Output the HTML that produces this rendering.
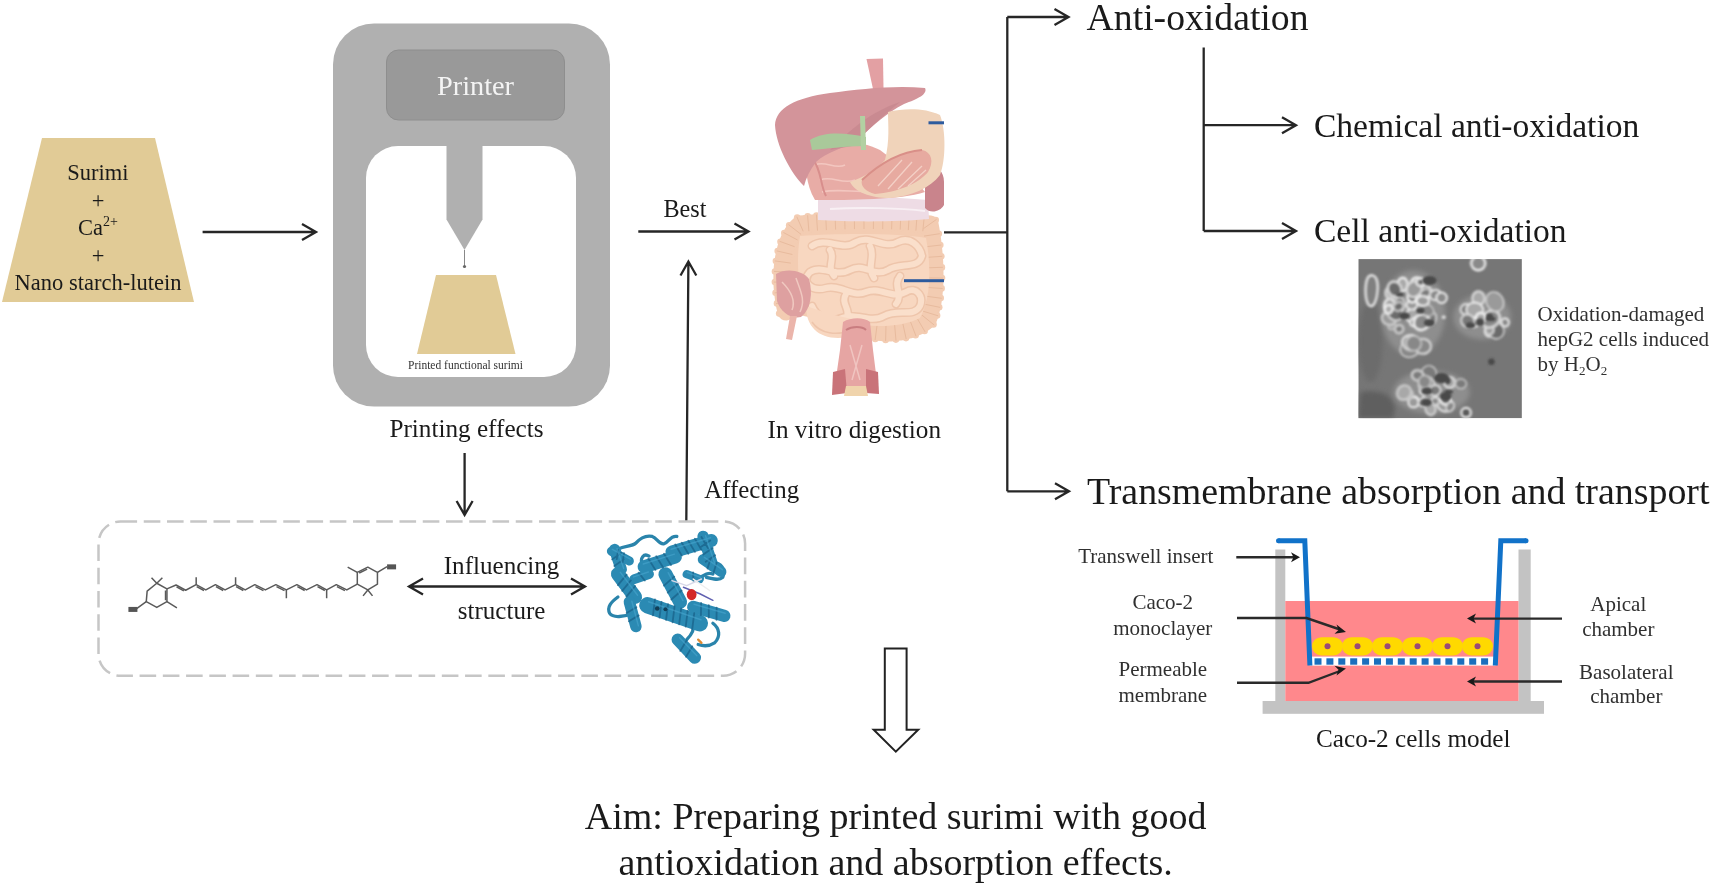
<!DOCTYPE html>
<html>
<head>
<meta charset="utf-8">
<style>
html,body{margin:0;padding:0;background:#fff;overflow:hidden;}
body{width:1713px;height:886px;position:relative;}
svg{position:absolute;left:0;top:0;}
text{font-family:"Liberation Serif",serif;fill:#1a1a1a;}
.g3 text{fill:#303030;}
</style>
</head>
<body>
<svg width="1713" height="886" viewBox="0 0 1713 886">
<defs>
<marker id="ah" viewBox="0 0 20 20" refX="18" refY="10" markerWidth="20" markerHeight="20" markerUnits="userSpaceOnUse" orient="auto">
<path d="M3 2 L18 10 L3 18" fill="none" stroke="#1a1a1a" stroke-width="2.2"/>
</marker>
<clipPath id="micclip"><rect x="1358.3" y="259.1" width="163.6" height="159.2"/></clipPath>
<filter id="blur1" x="-20%" y="-20%" width="140%" height="140%"><feGaussianBlur stdDeviation="5"/></filter>
<filter id="blur2" x="-20%" y="-20%" width="140%" height="140%"><feGaussianBlur stdDeviation="14"/></filter>
</defs>
<g id="tree" fill="none" stroke="#262626" stroke-width="2.3">
<path d="M944,232.3 H1007.3"/>
<path d="M1007.3,17 V491.3"/>
<path d="M1007.3,17 H1068.5 M1054.5,9 L1068.5,17 L1054.5,25"/>
<path d="M1007.3,491.3 H1069 M1055,483.3 L1069,491.3 L1055,499.3"/>
<path d="M1203.7,47.5 V231"/>
<path d="M1203.7,125.2 H1296 M1282,117.2 L1296,125.2 L1282,133.2"/>
<path d="M1203.7,231 H1296 M1282,223 L1296,231 L1282,239"/>
<path d="M202.6,232 H316 M302,224 L316,232 L302,240"/>
<path d="M638.3,231.5 H748.5 M734.5,223.5 L748.5,231.5 L734.5,239.5"/>
<path d="M686.3,522 L688.4,261.5 M680.5,275.5 L688.4,261.5 L696.3,275.5"/>
<path d="M464.6,453 V515 M456.6,501 L464.6,515 L472.6,501"/>
<path d="M409,586.5 H585 M423,578.5 L409,586.5 L423,594.5 M571,578.5 L585,586.5 L571,594.5"/>
</g>
<rect x="98.5" y="521.5" width="646.6" height="154.3" rx="22" fill="none" stroke="#c6c6c6" stroke-width="2.5" stroke-dasharray="16.6,6.65"/>
<path d="M884.8,648.6 H906.6 V729.8 H918.2 L895.8,751.6 L873.7,729.8 H884.8 Z" fill="#fff" stroke="#222" stroke-width="2"/>

<!-- GRAPHICS -->
<g id="g-left">
<polygon points="42,138 155,138 194,302 2,302" fill="#e1cb96"/>
</g>
<g id="printer">
<rect x="333" y="23.5" width="277" height="383" rx="41" fill="#b0b0b0"/>
<rect x="386.5" y="50" width="178" height="70" rx="12" fill="#999" stroke="#8e8e8e" stroke-width="1"/>
<rect x="366" y="146" width="210" height="231" rx="32" fill="#fff"/>
<polygon points="446.5,146 482.5,146 482.5,219.5 464.5,250 446.5,219.5" fill="#b0b0b0"/>
<line x1="464.5" y1="250" x2="464.5" y2="266" stroke="#888" stroke-width="1"/>
<circle cx="464.5" cy="266.5" r="1.6" fill="#666"/>
<polygon points="436,275 496,275 515.5,354 417,354" fill="#e1cb96"/>
</g>
<g id="digest">
<path d="M866.5,59 L883,58.5 L883.5,88 L873,89 Z" fill="#e3a0a3"/>
<path d="M786.0,312.0 L784.9,307.1 L783.9,302.2 L783.2,297.2 L782.6,292.1 L782.1,287.0 L781.9,281.9 L781.9,276.8 L782.0,271.8 L782.3,266.9 L782.9,262.0 L783.6,257.3 L784.6,252.7 L785.7,248.2 L787.1,244.0 L788.7,240.0 L790.5,236.2 L792.5,232.7 L794.8,229.5 L797.3,226.6 L800.0,224.0 L804.1,223.6 L808.3,223.3 L812.5,222.9 L816.9,222.6 L821.4,222.3 L826.0,222.1 L830.6,221.9 L835.3,221.7 L840.0,221.5 L844.8,221.3 L849.6,221.2 L854.4,221.1 L859.2,221.1 L864.0,221.0 L868.8,221.0 L873.5,221.0 L878.2,221.1 L882.8,221.1 L887.4,221.2 L891.9,221.3 L896.2,221.5 L900.5,221.7 L904.7,221.9 L908.8,222.1 L912.7,222.3 L916.5,222.6 L920.2,222.9 L923.6,223.3 L926.9,223.6 L930.0,224.0 L931.0,229.4 L931.9,234.9 L932.7,240.4 L933.3,245.9 L933.9,251.4 L934.4,256.8 L934.7,262.2 L934.9,267.6 L935.0,272.8 L935.0,278.0 L934.9,283.0 L934.6,287.9 L934.2,292.7 L933.7,297.2 L933.1,301.6 L932.3,305.8 L931.4,309.7 L930.4,313.4 L929.3,316.9 L928.0,320.0 L924.7,322.6 L921.0,325.0 L917.2,327.0 L913.1,328.7 L908.9,330.1 L904.5,331.2 L899.9,332.1 L895.3,332.6 L890.6,332.9 L885.8,332.9 L881.0,332.6 L876.2,332.1 L871.4,331.3 L866.6,330.3 L862.0,329.0 Z" fill="#f3ccb2" stroke="none"/><path d="M786.0,312.0 L784.9,307.1 L783.9,302.2 L783.2,297.2 L782.6,292.1 L782.1,287.0 L781.9,281.9 L781.9,276.8 L782.0,271.8 L782.3,266.9 L782.9,262.0 L783.6,257.3 L784.6,252.7 L785.7,248.2 L787.1,244.0 L788.7,240.0 L790.5,236.2 L792.5,232.7 L794.8,229.5 L797.3,226.6 L800.0,224.0 L804.1,223.6 L808.3,223.3 L812.5,222.9 L816.9,222.6 L821.4,222.3 L826.0,222.1 L830.6,221.9 L835.3,221.7 L840.0,221.5 L844.8,221.3 L849.6,221.2 L854.4,221.1 L859.2,221.1 L864.0,221.0 L868.8,221.0 L873.5,221.0 L878.2,221.1 L882.8,221.1 L887.4,221.2 L891.9,221.3 L896.2,221.5 L900.5,221.7 L904.7,221.9 L908.8,222.1 L912.7,222.3 L916.5,222.6 L920.2,222.9 L923.6,223.3 L926.9,223.6 L930.0,224.0 L931.0,229.4 L931.9,234.9 L932.7,240.4 L933.3,245.9 L933.9,251.4 L934.4,256.8 L934.7,262.2 L934.9,267.6 L935.0,272.8 L935.0,278.0 L934.9,283.0 L934.6,287.9 L934.2,292.7 L933.7,297.2 L933.1,301.6 L932.3,305.8 L931.4,309.7 L930.4,313.4 L929.3,316.9 L928.0,320.0 L924.7,322.6 L921.0,325.0 L917.2,327.0 L913.1,328.7 L908.9,330.1 L904.5,331.2 L899.9,332.1 L895.3,332.6 L890.6,332.9 L885.8,332.9 L881.0,332.6 L876.2,332.1 L871.4,331.3 L866.6,330.3 L862.0,329.0" fill="none" stroke="#f3ccb2" stroke-width="17" stroke-linecap="round" stroke-linejoin="round"/>
<g fill="#f3ccb2"><circle cx="792.8" cy="310.4" r="3.3"/><circle cx="779.2" cy="313.6" r="3.3"/><circle cx="790.8" cy="301.0" r="3.3"/><circle cx="777.0" cy="303.4" r="3.3"/><circle cx="789.5" cy="291.4" r="3.3"/><circle cx="775.6" cy="292.8" r="3.3"/><circle cx="788.9" cy="281.7" r="3.3"/><circle cx="774.9" cy="282.1" r="3.3"/><circle cx="789.0" cy="272.1" r="3.3"/><circle cx="775.0" cy="271.5" r="3.3"/><circle cx="789.8" cy="262.9" r="3.3"/><circle cx="775.9" cy="261.1" r="3.3"/><circle cx="791.4" cy="254.3" r="3.3"/><circle cx="777.7" cy="251.1" r="3.3"/><circle cx="793.7" cy="246.4" r="3.3"/><circle cx="780.5" cy="241.7" r="3.3"/><circle cx="796.7" cy="239.5" r="3.3"/><circle cx="784.3" cy="233.0" r="3.3"/><circle cx="800.3" cy="233.8" r="3.3"/><circle cx="789.2" cy="225.2" r="3.3"/><circle cx="802.8" cy="230.4" r="3.3"/><circle cx="797.2" cy="217.6" r="3.3"/><circle cx="808.8" cy="230.2" r="3.3"/><circle cx="807.7" cy="216.3" r="3.3"/><circle cx="817.4" cy="229.6" r="3.3"/><circle cx="816.5" cy="215.6" r="3.3"/><circle cx="826.4" cy="229.1" r="3.3"/><circle cx="825.6" cy="215.1" r="3.3"/><circle cx="835.6" cy="228.6" r="3.3"/><circle cx="835.0" cy="214.7" r="3.3"/><circle cx="845.0" cy="228.3" r="3.3"/><circle cx="844.6" cy="214.3" r="3.3"/><circle cx="854.5" cy="228.1" r="3.3"/><circle cx="854.3" cy="214.1" r="3.3"/><circle cx="864.0" cy="228.0" r="3.3"/><circle cx="863.9" cy="214.0" r="3.3"/><circle cx="873.4" cy="228.0" r="3.3"/><circle cx="873.5" cy="214.0" r="3.3"/><circle cx="882.7" cy="228.1" r="3.3"/><circle cx="882.9" cy="214.1" r="3.3"/><circle cx="891.6" cy="228.3" r="3.3"/><circle cx="892.1" cy="214.3" r="3.3"/><circle cx="900.2" cy="228.6" r="3.3"/><circle cx="900.9" cy="214.7" r="3.3"/><circle cx="908.4" cy="229.1" r="3.3"/><circle cx="909.2" cy="215.1" r="3.3"/><circle cx="916.0" cy="229.6" r="3.3"/><circle cx="917.1" cy="215.6" r="3.3"/><circle cx="922.9" cy="230.2" r="3.3"/><circle cx="924.3" cy="216.3" r="3.3"/><circle cx="924.3" cy="228.0" r="3.3"/><circle cx="935.7" cy="220.0" r="3.3"/><circle cx="925.0" cy="236.0" r="3.3"/><circle cx="938.8" cy="233.8" r="3.3"/><circle cx="926.4" cy="246.7" r="3.3"/><circle cx="940.3" cy="245.1" r="3.3"/><circle cx="927.4" cy="257.3" r="3.3"/><circle cx="941.3" cy="256.3" r="3.3"/><circle cx="927.9" cy="267.8" r="3.3"/><circle cx="941.9" cy="267.4" r="3.3"/><circle cx="928.0" cy="277.9" r="3.3"/><circle cx="942.0" cy="278.1" r="3.3"/><circle cx="927.6" cy="287.5" r="3.3"/><circle cx="941.6" cy="288.4" r="3.3"/><circle cx="926.8" cy="296.4" r="3.3"/><circle cx="940.7" cy="298.1" r="3.3"/><circle cx="925.5" cy="304.4" r="3.3"/><circle cx="939.2" cy="307.2" r="3.3"/><circle cx="923.7" cy="311.4" r="3.3"/><circle cx="937.1" cy="315.5" r="3.3"/><circle cx="922.5" cy="315.6" r="3.3"/><circle cx="933.5" cy="324.4" r="3.3"/><circle cx="917.5" cy="318.9" r="3.3"/><circle cx="924.6" cy="331.0" r="3.3"/><circle cx="910.7" cy="322.1" r="3.3"/><circle cx="915.6" cy="335.2" r="3.3"/><circle cx="903.0" cy="324.4" r="3.3"/><circle cx="906.0" cy="338.1" r="3.3"/><circle cx="894.7" cy="325.6" r="3.3"/><circle cx="895.9" cy="339.6" r="3.3"/><circle cx="886.0" cy="325.9" r="3.3"/><circle cx="885.6" cy="339.9" r="3.3"/><circle cx="877.1" cy="325.2" r="3.3"/><circle cx="875.2" cy="339.0" r="3.3"/><circle cx="868.3" cy="323.5" r="3.3"/><circle cx="865.0" cy="337.1" r="3.3"/></g>
<path d="M776.1,303.6 L791.8,300.8 M774.6,292.9 L790.5,291.3 M773.9,282.1 L789.9,281.7 M774.0,271.4 L790.0,272.2 M774.9,260.9 L790.8,263.1 M776.8,250.9 L792.4,254.5 M779.6,241.3 L794.6,246.7 M783.4,232.5 L797.6,240.0 M788.5,224.6 L801.1,234.4 M796.8,216.7 L803.2,231.3 M807.6,215.3 L808.9,231.2 M816.4,214.6 L817.5,230.6 M825.6,214.1 L826.4,230.1 M835.0,213.7 L835.6,229.6 M844.6,213.3 L845.0,229.3 M854.3,213.1 L854.5,229.1 M863.9,213.0 L864.0,229.0 M873.5,213.0 L873.4,229.0 M882.9,213.1 L882.7,229.1 M892.1,213.3 L891.6,229.3 M900.9,213.7 L900.2,229.6 M909.3,214.1 L908.3,230.1 M917.1,214.6 L915.9,230.6 M924.4,215.3 L922.8,231.2 M936.5,219.4 L923.5,228.6 M939.8,233.7 L924.0,236.1 M941.3,245.0 L925.4,246.8 M942.3,256.3 L926.4,257.4 M942.9,267.3 L926.9,267.8 M943.0,278.1 L927.0,277.9 M942.6,288.5 L926.6,287.4 M941.7,298.3 L925.8,296.2 M940.2,307.4 L924.5,304.2 M938.1,315.8 L922.8,311.1 M934.2,325.0 L921.8,315.0 M925.1,331.9 L917.0,318.1 M916.0,336.2 L910.3,321.2 M906.2,339.0 L902.8,323.4 M896.0,340.6 L894.6,324.6 M885.6,340.9 L886.0,324.9 M875.1,340.0 L877.2,324.2 M864.7,338.0 L868.6,322.5" fill="none" stroke="#e8bb9e" stroke-width="1"/>
<path d="M800,236 C840,233 900,233 926,238 C932,270 930,300 920,318 C900,328 870,328 850,322 C830,326 812,324 806,310 C798,290 796,260 800,236 Z" fill="#f8d7c0"/>
<g fill="none" stroke-linecap="round">
<path d="M812,246 C826,236 842,252 856,242 C870,234 884,250 898,242 C910,236 920,246 922,256 M922,256 C918,270 900,262 888,270 C874,278 864,262 850,270 C836,278 822,264 810,272 M810,272 C800,282 812,292 826,288 C840,284 852,298 866,292 C880,286 892,300 906,292 C916,286 924,296 920,306 M920,306 C914,318 898,308 884,316 C870,324 856,312 842,318 C828,324 816,316 812,306 M830,250 C836,258 826,266 834,276 M870,246 C876,256 866,266 874,278 M900,276 C892,286 904,294 896,304 M846,294 C840,304 852,310 846,318" stroke="#eec5ab" stroke-width="9"/>
<path d="M812,246 C826,236 842,252 856,242 C870,234 884,250 898,242 C910,236 920,246 922,256 M922,256 C918,270 900,262 888,270 C874,278 864,262 850,270 C836,278 822,264 810,272 M810,272 C800,282 812,292 826,288 C840,284 852,298 866,292 C880,286 892,300 906,292 C916,286 924,296 920,306 M920,306 C914,318 898,308 884,316 C870,324 856,312 842,318 C828,324 816,316 812,306 M830,250 C836,258 826,266 834,276 M870,246 C876,256 866,266 874,278 M900,276 C892,286 904,294 896,304 M846,294 C840,304 852,310 846,318" stroke="#fadfcb" stroke-width="6"/>
</g>
<path d="M806,306 C806,326 818,338 838,338 C850,338 856,330 856,320 L830,314 Z" fill="#f8d7c0"/>
<path d="M812,322 C820,334 838,336 850,330" fill="none" stroke="#eec5ab" stroke-width="1.5"/>
<path d="M776,274 C786,268 802,270 809,279 C813,293 811,309 801,317 C791,319 781,313 777,301 Z" fill="#dea0a0"/>
<path d="M782,282 C790,290 796,300 792,310 M796,278 C800,290 806,300 800,312" fill="none" stroke="#f0c8c0" stroke-width="1.5"/>
<path d="M790,316 L797,316 L792,340 L786,339 Z" fill="#ebb5ab"/>
<path d="M850,328 C850,360 856,380 862,396" fill="none" stroke="none"/>
<path d="M843,322 C851,317 864,317 870,322 L873,350 L878,390 L834,392 L840,350 Z" fill="#e6a5a3"/>
<path d="M846,330 C852,326 862,326 866,330" fill="none" stroke="#c97d80" stroke-width="2"/>
<path d="M850,345 L860,380 M862,345 L852,380" fill="none" stroke="#f0c4c0" stroke-width="1.5"/>
<path d="M833,372 L845,369 L847,393 L832,395 Z" fill="#c97379"/>
<path d="M866,369 L878,372 L879,394 L866,393 Z" fill="#c97379"/>
<path d="M846,386 L866,386 L868,396 L844,396 Z" fill="#f0d4ac"/>
<path d="M818,199 C850,196 900,197 928,200 L929,219 C900,222 850,222 818,220 Z" fill="#eedce5"/>
<path d="M830,209 C860,207 900,208 925,211" fill="none" stroke="#f8f0f4" stroke-width="2"/>
<path d="M925,166 C935,164 944,170 944,182 L944,205 C940,212 930,214 925,208 Z" fill="#c9848c"/>
<path d="M808,150 C830,138 860,140 880,150 C900,165 915,180 925,192 C900,200 850,200 815,200 C806,185 804,165 808,150 Z" fill="#e8aca6"/>
<path d="M815,165 C825,160 835,170 845,165 M820,180 C832,175 842,185 855,180 M822,192 C840,188 860,194 880,190" fill="none" stroke="#f3c7c0" stroke-width="1.6"/>
<path d="M812,158 C822,170 820,185 826,196" fill="none" stroke="#d88e8c" stroke-width="2"/>
<path d="M804,186 C790,172 776,145 775,125 C776,108 795,98 830,93 C860,89 895,85 925,88 C928,94 918,99 904,104 C888,112 872,126 858,140 C845,148 826,152 816,162 C810,170 806,178 804,186 Z" fill="#d3949a"/>
<path d="M830,150 C850,130 870,112 900,102 C880,118 866,132 852,146 Z" fill="#c5868d" opacity="0.7"/>
<path d="M810,140 C825,131 845,133 866,137 L866,146 C845,146 825,149 812,150 Z" fill="#a9c99a"/>
<path d="M860,116 L865,116 L866,150 L861,150 Z" fill="#b2d0a2"/>
<path d="M888,112 C905,108 925,108 940,115 C946,130 946,160 940,175 C930,188 912,196 890,198 C870,198 855,192 850,182 C862,178 876,170 885,160 C890,140 888,125 888,112 Z" fill="#f0d3ba"/>
<path d="M862,180 C875,168 895,152 922,150 C932,152 934,162 928,172 C918,184 898,192 875,194 C866,192 860,186 862,180 Z" fill="#e7aaa0"/>
<path d="M862,180 C875,168 895,152 922,150" fill="none" stroke="#d98f88" stroke-width="2"/>
<g fill="none" stroke="#f4d0c6" stroke-width="1.3"><path d="M878,186 L902,160 M888,189 L912,162 M898,189 L922,166 M908,186 L926,170"/></g>
<rect x="928.5" y="121.3" width="15.5" height="3" fill="#2d5b9e"/>
<rect x="904" y="279.2" width="40" height="3" fill="#2d5b9e"/>
</g>
<g id="molecule" fill="none" stroke="#5a5a5a" stroke-width="1.5" stroke-linejoin="round">
<polyline points="166.94,588.88 176.04,585.03 185.67,590.28 196.18,584.68 205.81,589.93 215.45,584.68 225.08,589.93 235.59,584.68 245.22,589.93 254.85,584.68 265.36,589.93 275.87,584.68 286.37,589.93 296.88,584.68 306.51,589.93 317.02,584.68 326.65,589.93 336.29,584.68 346.80,589.93 357.30,584.15"/>
<polygon points="156.78,583.27 166.94,588.88 166.94,601.66 156.78,607.44 146.27,601.66 147.15,591.16"/>
<polygon points="367.81,567.16 377.44,572.42 377.44,584.15 367.81,589.93 357.30,584.15 357.30,572.42"/>
<path d="M156.78,583.27 L151.52,577.67 M156.78,583.27 L162.38,577.67 M166.94,601.66 L176.92,607.79 M146.27,601.66 L136.64,608.67 M196.18,584.68 L196.18,577.15 M235.59,584.68 L235.59,577.15 M286.37,589.93 L286.37,598.16 M326.65,589.93 L326.65,598.16 M357.30,572.42 L347.67,567.16 M367.81,589.93 L363.08,595.88 M367.81,589.93 L372.54,595.88 M377.44,572.42 L387.08,566.64 M176.53,586.89 L183.85,590.88 M196.67,586.54 L203.99,590.53 M215.93,586.54 L223.25,590.53 M236.07,586.54 L243.39,590.53 M255.49,586.56 L263.47,590.55 M276.50,586.56 L284.49,590.55 M297.37,586.54 L304.69,590.53 M317.51,586.54 L324.83,590.53 M336.92,586.56 L344.91,590.55 M165.54,590.41 L165.54,600.13 M359.19,573.04 L367.18,569.05"/>
<rect x="128.41" y="606.92" width="9" height="5" fill="#555" stroke="none"/>
<rect x="387.08" y="564.36" width="9" height="5" fill="#555" stroke="none"/>
</g>
<g id="protein" transform="translate(595,525) scale(0.16375)" stroke-linecap="round" stroke-linejoin="round" fill="none">
<g stroke="#2a84ab" stroke-width="20" fill="none" stroke-linecap="round">
<path d="M110,170 C150,120 220,140 250,110 C270,90 300,60 350,70 C380,80 390,120 420,115 C450,110 460,60 500,70"/>
<path d="M140,440 C100,470 70,500 90,540 C110,570 180,560 230,540"/>
<path d="M720,230 C770,230 800,270 780,320 C760,340 720,330 680,320"/>
<path d="M720,600 C760,630 770,680 730,720 C700,740 660,740 630,730"/>
<path d="M290,250 C270,200 300,170 330,190"/>
<path d="M600,600 C610,640 580,680 560,700"/>
<path d="M640,330 C660,300 700,290 720,300"/>
</g>
<g><path d="M120,150 L160,270" stroke="#2b8ab3" stroke-width="70"/><path d="M100,160 L210,220" stroke="#2b8ab3" stroke-width="55"/><path d="M140,300 L245,440" stroke="#2b8ab3" stroke-width="85"/><path d="M300,255 L490,195" stroke="#2b8ab3" stroke-width="80"/><path d="M470,165 L710,95" stroke="#2b8ab3" stroke-width="80"/><path d="M660,70 L720,250" stroke="#2b8ab3" stroke-width="70"/><path d="M660,210 L770,285" stroke="#2b8ab3" stroke-width="65"/><path d="M430,300 L520,470" stroke="#2b8ab3" stroke-width="85"/><path d="M320,490 L640,600" stroke="#2b8ab3" stroke-width="100"/><path d="M600,500 L790,555" stroke="#2b8ab3" stroke-width="75"/><path d="M505,700 L610,810" stroke="#2b8ab3" stroke-width="75"/><path d="M210,470 L250,620" stroke="#2b8ab3" stroke-width="70"/><path d="M560,300 L640,330" stroke="#2b8ab3" stroke-width="50"/><path d="M240,330 L330,300" stroke="#2b8ab3" stroke-width="60"/></g>
<path d="M162,170 L105,210 M175,210 L118,250 M141,152 L133,208 M177,172 L169,228 M193,303 L140,367 M219,338 L166,402 M245,373 L192,437 M326,206 L369,274 M374,191 L416,259 M421,176 L464,244 M490,119 L530,187 M530,108 L570,176 M570,96 L610,164 M610,84 L650,152 M650,73 L690,141 M704,95 L646,135 M719,140 L661,180 M734,185 L676,225 M706,204 L687,266 M743,229 L724,291 M484,315 L421,370 M506,357 L444,413 M529,400 L466,455 M366,455 L354,552 M406,469 L394,566 M446,483 L434,580 M486,496 L474,594 M526,510 L514,607 M566,524 L554,621 M606,538 L594,635 M648,476 L647,551 M695,490 L695,565 M743,504 L742,579 M559,705 L521,769 M594,741 L556,805 M253,502 L193,538 M267,552 L207,588 M599,289 L601,341 M266,291 L304,339" stroke="#1a6189" stroke-width="11" opacity="0.75"/>
<path d="M135,145 L175,265 M106,149 L216,209 M155,289 L260,429 M295,238 L485,178 M465,148 L705,78 M675,65 L735,245 M668,198 L778,273 M447,291 L537,461 M327,469 L647,579 M605,484 L795,539 M517,689 L622,799 M225,466 L265,616 M564,290 L644,320 M236,317 L326,287" stroke="#4aa7cf" stroke-width="9" opacity="0.55"/>
<g stroke-width="9">
<path d="M470,340 L560,370 L650,330" stroke="#d8d8e8"/>
<path d="M540,380 L640,420 L720,460" stroke="#6060b0"/>
<path d="M600,330 L700,400" stroke="#eeeeee"/>
</g>
<ellipse cx="590" cy="425" rx="30" ry="34" fill="#d42828"/>
<path d="M630,700 L650,720" stroke="#e08a30" stroke-width="14"/>
<circle cx="380" cy="510" r="14" fill="#123f58"/>
<circle cx="430" cy="515" r="12" fill="#123f58"/>
</g>
<g id="micro" clip-path="url(#micclip)">
<rect x="1358.3" y="259.1" width="163.6" height="159.2" fill="#767676"/>
<g transform="translate(1340,250) scale(0.20325)">
<g filter="url(#blur2)" fill="#8e8e8e"><ellipse cx="360" cy="310" rx="158" ry="210"/><ellipse cx="700" cy="330" rx="142" ry="110"/><ellipse cx="450" cy="700" rx="189" ry="105"/>
<path d="M100,700 C200,680 300,720 260,828 L90,828 Z" fill="#5e5e5e"/>
<ellipse cx="150" cy="450" rx="60" ry="200" fill="#6c6c6c"/>
</g>
<g filter="url(#blur1)">
<ellipse cx="307" cy="170" rx="34" ry="25" transform="rotate(96 307 170)" fill="#a8a8a8" stroke="#f2f2f2" stroke-width="10"/><ellipse cx="337" cy="441" rx="21" ry="17" transform="rotate(113 337 441)" fill="#9a9a9a" stroke="#c8c8c8" stroke-width="10"/><ellipse cx="377" cy="163" rx="28" ry="27" transform="rotate(103 377 163)" fill="#7a7a7a" stroke="#f2f2f2" stroke-width="12"/><ellipse cx="241" cy="338" rx="23" ry="17" transform="rotate(128 241 338)" fill="#7a7a7a" stroke="#f2f2f2" stroke-width="7"/><ellipse cx="359" cy="323" rx="37" ry="34" transform="rotate(166 359 323)" fill="#a8a8a8" stroke="#f2f2f2" stroke-width="9"/><ellipse cx="420" cy="208" rx="32" ry="31" transform="rotate(158 420 208)" fill="#6a6a6a" stroke="#e8e8e8" stroke-width="9"/><ellipse cx="245" cy="277" rx="36" ry="28" transform="rotate(88 245 277)" fill="#9a9a9a" stroke="#e8e8e8" stroke-width="13"/><ellipse cx="439" cy="339" rx="39" ry="33" transform="rotate(125 439 339)" fill="#7a7a7a" stroke="#c8c8c8" stroke-width="10"/><ellipse cx="291" cy="389" rx="20" ry="21" transform="rotate(56 291 389)" fill="#7a7a7a" stroke="#c8c8c8" stroke-width="13"/><ellipse cx="295" cy="264" rx="34" ry="24" transform="rotate(83 295 264)" fill="#888" stroke="#c8c8c8" stroke-width="11"/><ellipse cx="249" cy="209" rx="27" ry="31" transform="rotate(15 249 209)" fill="#6a6a6a" stroke="#d8d8d8" stroke-width="9"/><ellipse cx="469" cy="221" rx="28" ry="25" transform="rotate(159 469 221)" fill="#888" stroke="#f2f2f2" stroke-width="8"/><ellipse cx="255" cy="373" rx="18" ry="20" transform="rotate(33 255 373)" fill="#a8a8a8" stroke="#c8c8c8" stroke-width="7"/><ellipse cx="370" cy="354" rx="26" ry="20" transform="rotate(155 370 354)" fill="#7a7a7a" stroke="#e8e8e8" stroke-width="11"/><ellipse cx="347" cy="458" rx="41" ry="42" transform="rotate(101 347 458)" fill="#6a6a6a" stroke="#e8e8e8" stroke-width="9"/><ellipse cx="354" cy="270" rx="23" ry="27" transform="rotate(79 354 270)" fill="#9a9a9a" stroke="#e8e8e8" stroke-width="9"/><ellipse cx="241" cy="337" rx="31" ry="36" transform="rotate(110 241 337)" fill="#9a9a9a" stroke="#c8c8c8" stroke-width="12"/><ellipse cx="255" cy="211" rx="26" ry="23" transform="rotate(22 255 211)" fill="#6a6a6a" stroke="#c8c8c8" stroke-width="13"/><ellipse cx="354" cy="235" rx="21" ry="23" transform="rotate(133 354 235)" fill="#6a6a6a" stroke="#f2f2f2" stroke-width="12"/><ellipse cx="365" cy="192" rx="41" ry="36" transform="rotate(124 365 192)" fill="#9a9a9a" stroke="#d8d8d8" stroke-width="12"/><ellipse cx="419" cy="214" rx="27" ry="21" transform="rotate(139 419 214)" fill="#7a7a7a" stroke="#d8d8d8" stroke-width="10"/><ellipse cx="401" cy="355" rx="37" ry="40" transform="rotate(35 401 355)" fill="#888" stroke="#f2f2f2" stroke-width="12"/><ellipse cx="270" cy="307" rx="36" ry="42" transform="rotate(142 270 307)" fill="#6a6a6a" stroke="#d8d8d8" stroke-width="9"/><ellipse cx="344" cy="485" rx="42" ry="49" transform="rotate(66 344 485)" fill="#888" stroke="#c8c8c8" stroke-width="8"/><ellipse cx="269" cy="192" rx="33" ry="38" transform="rotate(151 269 192)" fill="#6a6a6a" stroke="#d8d8d8" stroke-width="12"/><ellipse cx="408" cy="474" rx="37" ry="40" transform="rotate(86 408 474)" fill="#888" stroke="#d8d8d8" stroke-width="10"/><ellipse cx="427" cy="295" rx="36" ry="27" transform="rotate(29 427 295)" fill="#888" stroke="#c8c8c8" stroke-width="7"/><ellipse cx="407" cy="250" rx="31" ry="24" transform="rotate(3 407 250)" fill="#9a9a9a" stroke="#f2f2f2" stroke-width="10"/><ellipse cx="340" cy="459" rx="38" ry="30" transform="rotate(45 340 459)" fill="#a8a8a8" stroke="#d8d8d8" stroke-width="10"/><ellipse cx="288" cy="278" rx="21" ry="24" transform="rotate(64 288 278)" fill="#6a6a6a" stroke="#c8c8c8" stroke-width="11"/><ellipse cx="363" cy="459" rx="37" ry="37" transform="rotate(140 363 459)" fill="#888" stroke="#c8c8c8" stroke-width="8"/><ellipse cx="396" cy="158" rx="19" ry="20" transform="rotate(96 396 158)" fill="#6a6a6a" stroke="#e8e8e8" stroke-width="12"/><ellipse cx="239" cy="291" rx="19" ry="21" transform="rotate(11 239 291)" fill="#a8a8a8" stroke="#f2f2f2" stroke-width="11"/><ellipse cx="746" cy="390" rx="40" ry="31" transform="rotate(129 746 390)" fill="#a8a8a8" stroke="#f2f2f2" stroke-width="8"/><ellipse cx="682" cy="333" rx="26" ry="21" transform="rotate(57 682 333)" fill="#a8a8a8" stroke="#c8c8c8" stroke-width="7"/><ellipse cx="655" cy="356" rx="30" ry="22" transform="rotate(177 655 356)" fill="#888" stroke="#e8e8e8" stroke-width="13"/><ellipse cx="769" cy="397" rx="38" ry="40" transform="rotate(170 769 397)" fill="#6a6a6a" stroke="#c8c8c8" stroke-width="8"/><ellipse cx="754" cy="244" rx="19" ry="20" transform="rotate(77 754 244)" fill="#9a9a9a" stroke="#e8e8e8" stroke-width="9"/><ellipse cx="736" cy="393" rx="20" ry="23" transform="rotate(12 736 393)" fill="#9a9a9a" stroke="#d8d8d8" stroke-width="10"/><ellipse cx="812" cy="356" rx="19" ry="20" transform="rotate(169 812 356)" fill="#888" stroke="#f2f2f2" stroke-width="9"/><ellipse cx="619" cy="291" rx="25" ry="27" transform="rotate(52 619 291)" fill="#7a7a7a" stroke="#d8d8d8" stroke-width="11"/><ellipse cx="763" cy="341" rx="23" ry="21" transform="rotate(168 763 341)" fill="#9a9a9a" stroke="#c8c8c8" stroke-width="11"/><ellipse cx="742" cy="340" rx="39" ry="47" transform="rotate(55 742 340)" fill="#888" stroke="#d8d8d8" stroke-width="13"/><ellipse cx="762" cy="254" rx="42" ry="50" transform="rotate(151 762 254)" fill="#9a9a9a" stroke="#d8d8d8" stroke-width="7"/><ellipse cx="681" cy="237" rx="34" ry="30" transform="rotate(91 681 237)" fill="#a8a8a8" stroke="#d8d8d8" stroke-width="11"/><ellipse cx="663" cy="294" rx="42" ry="36" transform="rotate(6 663 294)" fill="#a8a8a8" stroke="#f2f2f2" stroke-width="8"/><ellipse cx="693" cy="331" rx="23" ry="22" transform="rotate(1 693 331)" fill="#a8a8a8" stroke="#f2f2f2" stroke-width="12"/><ellipse cx="628" cy="348" rx="31" ry="33" transform="rotate(118 628 348)" fill="#7a7a7a" stroke="#d8d8d8" stroke-width="9"/><ellipse cx="517" cy="760" rx="35" ry="41" transform="rotate(116 517 760)" fill="#9a9a9a" stroke="#f2f2f2" stroke-width="7"/><ellipse cx="406" cy="690" rx="19" ry="14" transform="rotate(96 406 690)" fill="#888" stroke="#e8e8e8" stroke-width="10"/><ellipse cx="435" cy="614" rx="40" ry="46" transform="rotate(17 435 614)" fill="#7a7a7a" stroke="#c8c8c8" stroke-width="7"/><ellipse cx="366" cy="746" rx="23" ry="25" transform="rotate(176 366 746)" fill="#6a6a6a" stroke="#e8e8e8" stroke-width="12"/><ellipse cx="442" cy="737" rx="36" ry="37" transform="rotate(116 442 737)" fill="#9a9a9a" stroke="#d8d8d8" stroke-width="11"/><ellipse cx="361" cy="749" rx="25" ry="25" transform="rotate(2 361 749)" fill="#9a9a9a" stroke="#e8e8e8" stroke-width="10"/><ellipse cx="519" cy="735" rx="25" ry="24" transform="rotate(84 519 735)" fill="#6a6a6a" stroke="#f2f2f2" stroke-width="12"/><ellipse cx="382" cy="617" rx="29" ry="25" transform="rotate(14 382 617)" fill="#7a7a7a" stroke="#c8c8c8" stroke-width="13"/><ellipse cx="539" cy="652" rx="27" ry="27" transform="rotate(114 539 652)" fill="#a8a8a8" stroke="#d8d8d8" stroke-width="12"/><ellipse cx="432" cy="660" rx="21" ry="19" transform="rotate(57 432 660)" fill="#a8a8a8" stroke="#d8d8d8" stroke-width="7"/><ellipse cx="595" cy="658" rx="27" ry="24" transform="rotate(180 595 658)" fill="#7a7a7a" stroke="#c8c8c8" stroke-width="7"/><ellipse cx="542" cy="771" rx="25" ry="18" transform="rotate(119 542 771)" fill="#888" stroke="#d8d8d8" stroke-width="8"/><ellipse cx="427" cy="663" rx="37" ry="40" transform="rotate(77 427 663)" fill="#9a9a9a" stroke="#c8c8c8" stroke-width="12"/><ellipse cx="468" cy="744" rx="19" ry="20" transform="rotate(81 468 744)" fill="#888" stroke="#d8d8d8" stroke-width="11"/><ellipse cx="445" cy="782" rx="31" ry="25" transform="rotate(75 445 782)" fill="#a8a8a8" stroke="#d8d8d8" stroke-width="9"/><ellipse cx="416" cy="648" rx="30" ry="31" transform="rotate(22 416 648)" fill="#888" stroke="#c8c8c8" stroke-width="7"/><ellipse cx="468" cy="691" rx="26" ry="28" transform="rotate(77 468 691)" fill="#7a7a7a" stroke="#e8e8e8" stroke-width="8"/><ellipse cx="333" cy="711" rx="26" ry="23" transform="rotate(146 333 711)" fill="#888" stroke="#c8c8c8" stroke-width="12"/><ellipse cx="408" cy="749" rx="23" ry="19" transform="rotate(135 408 749)" fill="#6a6a6a" stroke="#d8d8d8" stroke-width="9"/><ellipse cx="315" cy="701" rx="33" ry="37" transform="rotate(39 315 701)" fill="#a8a8a8" stroke="#c8c8c8" stroke-width="12"/>
<path d="M140,130 C170,110 190,140 185,200 C180,260 160,290 140,270 C120,240 120,160 140,130 Z" fill="#808080" stroke="#e0e0e0" stroke-width="12"/>
<circle cx="680" cy="65" r="35" fill="#8a8a8a" stroke="#e8e8e8" stroke-width="12"/>
<circle cx="500" cy="235" r="26" fill="#8a8a8a" stroke="#e8e8e8" stroke-width="10"/>
<circle cx="620" cy="800" r="24" fill="#5a5a5a" stroke="#f0f0f0" stroke-width="10"/>
<circle cx="510" cy="330" r="10" fill="#ddd"/>
</g>
<g filter="url(#blur1)" fill="#4a4a4a"><ellipse cx="395" cy="299" rx="21" ry="15"/><ellipse cx="439" cy="358" rx="26" ry="19"/><ellipse cx="317" cy="324" rx="27" ry="18"/><ellipse cx="295" cy="219" rx="19" ry="11"/><ellipse cx="736" cy="329" rx="17" ry="16"/><ellipse cx="642" cy="371" rx="23" ry="15"/><ellipse cx="689" cy="355" rx="20" ry="19"/><ellipse cx="741" cy="339" rx="25" ry="10"/><ellipse cx="428" cy="694" rx="27" ry="18"/><ellipse cx="531" cy="643" rx="13" ry="17"/><ellipse cx="535" cy="697" rx="21" ry="10"/><ellipse cx="427" cy="751" rx="25" ry="19"/>
<ellipse cx="440" cy="150" rx="35" ry="22"/>
<ellipse cx="500" cy="630" rx="38" ry="25"/>
<ellipse cx="520" cy="720" rx="30" ry="22"/>
<ellipse cx="745" cy="550" rx="16" ry="16"/>
</g>
</g>
</g>
<g id="cellmodel">
<rect x="1262.6" y="701" width="281.4" height="12.8" fill="#c3c3c3"/>
<rect x="1275.3" y="549.5" width="10" height="152" fill="#c3c3c3"/>
<rect x="1518.5" y="549.5" width="12.2" height="152" fill="#c3c3c3"/>
<rect x="1285.3" y="601" width="233.2" height="100" fill="#ff888c"/>
<rect x="1309.7" y="656.6" width="185.8" height="9" fill="#fff"/><rect x="1314.5" y="658.3" width="7" height="6.4" fill="#1a6fbd"/><rect x="1326.4" y="658.3" width="7" height="6.4" fill="#1a6fbd"/><rect x="1338.3" y="658.3" width="7" height="6.4" fill="#1a6fbd"/><rect x="1350.2" y="658.3" width="7" height="6.4" fill="#1a6fbd"/><rect x="1362.1" y="658.3" width="7" height="6.4" fill="#1a6fbd"/><rect x="1374.0" y="658.3" width="7" height="6.4" fill="#1a6fbd"/><rect x="1385.9" y="658.3" width="7" height="6.4" fill="#1a6fbd"/><rect x="1397.8" y="658.3" width="7" height="6.4" fill="#1a6fbd"/><rect x="1409.7" y="658.3" width="7" height="6.4" fill="#1a6fbd"/><rect x="1421.6" y="658.3" width="7" height="6.4" fill="#1a6fbd"/><rect x="1433.5" y="658.3" width="7" height="6.4" fill="#1a6fbd"/><rect x="1445.4" y="658.3" width="7" height="6.4" fill="#1a6fbd"/><rect x="1457.3" y="658.3" width="7" height="6.4" fill="#1a6fbd"/><rect x="1469.2" y="658.3" width="7" height="6.4" fill="#1a6fbd"/><rect x="1481.1" y="658.3" width="7" height="6.4" fill="#1a6fbd"/>


<rect x="1312.0" y="637.2" width="31" height="18.2" rx="9.5" fill="#ffd900"/><rect x="1342.0" y="637.2" width="31" height="18.2" rx="9.5" fill="#ffd900"/><rect x="1372.0" y="637.2" width="31" height="18.2" rx="9.5" fill="#ffd900"/><rect x="1402.0" y="637.2" width="31" height="18.2" rx="9.5" fill="#ffd900"/><rect x="1432.0" y="637.2" width="31" height="18.2" rx="9.5" fill="#ffd900"/><rect x="1462.0" y="637.2" width="31" height="18.2" rx="9.5" fill="#ffd900"/><circle cx="1327.5" cy="646.3" r="3" fill="#9a4a78"/><circle cx="1357.5" cy="646.3" r="3" fill="#9a4a78"/><circle cx="1387.5" cy="646.3" r="3" fill="#9a4a78"/><circle cx="1417.5" cy="646.3" r="3" fill="#9a4a78"/><circle cx="1447.5" cy="646.3" r="3" fill="#9a4a78"/><circle cx="1477.5" cy="646.3" r="3" fill="#9a4a78"/>
<path d="M1278.5,540.7 L1304.8,540.7 L1309.9,665.5 M1495.3,665.5 L1500.8,540.7 L1526,540.7" fill="none" stroke="#1172c9" stroke-width="5" stroke-linecap="butt" stroke-linejoin="miter"/><circle cx="1278.5" cy="540.7" r="2.5" fill="#1172c9"/><circle cx="1526" cy="540.7" r="2.5" fill="#1172c9"/>
<g fill="none" stroke="#2a2a2a" stroke-width="2.4">
<path d="M1236.3,557.3 H1294"/>
<path d="M1237,618 H1306.5 L1340,629.5"/>
<path d="M1237,682.8 H1308.5 L1340,671"/>
<path d="M1562,618.6 H1473"/>
<path d="M1562,681.5 H1473"/>
</g>
<g fill="#1a1a1a">
<path d="M1300,557.3 L1291,552.3 L1293.5,557.3 L1291,562.3 Z"/>
<path d="M1346,632 L1336.5,624.5 L1338.5,630 L1334.5,633.8 Z"/>
<path d="M1346,668.5 L1334.5,665.8 L1338.5,669.8 L1336.5,675.5 Z"/>
<path d="M1467,618.6 L1476,613.6 L1473.5,618.6 L1476,623.6 Z"/>
<path d="M1467,681.5 L1476,676.5 L1473.5,681.5 L1476,686.5 Z"/>
</g>
</g>
<g id="texts">
<text x="98" y="180" font-size="22.5" text-anchor="middle">Surimi</text>
<text x="98" y="207.5" font-size="22.5" text-anchor="middle">+</text>
<text x="98" y="234.7" font-size="22.5" text-anchor="middle">Ca<tspan font-size="14" dy="-9">2+</tspan></text>
<text x="98" y="262.5" font-size="22.5" text-anchor="middle">+</text>
<text x="98" y="290.2" font-size="22.5" text-anchor="middle">Nano starch-lutein</text>
<text x="475.5" y="95" font-size="28.3" text-anchor="middle" style="fill:#f4f4f4">Printer</text>
<text x="465.5" y="369" font-size="11.5" text-anchor="middle" style="fill:#333">Printed functional surimi</text>
<text x="466.5" y="437.2" font-size="25.2" text-anchor="middle">Printing effects</text>
<text x="685" y="217" font-size="24.2" text-anchor="middle">Best</text>
<text x="854.3" y="438.3" font-size="25.2" text-anchor="middle">In vitro digestion</text>
<text x="1086.6" y="30" font-size="37.7">Anti-oxidation</text>
<text x="1313.9" y="136.8" font-size="33.6">Chemical anti-oxidation</text>
<text x="1313.9" y="242.4" font-size="33.6">Cell anti-oxidation</text>
<text x="1086.9" y="504.4" font-size="37.9">Transmembrane absorption and transport</text>
<text x="895.6" y="829.2" font-size="38" text-anchor="middle">Aim: Preparing printed surimi with good</text>
<text x="895.6" y="875.2" font-size="38" text-anchor="middle">antioxidation and absorption effects.</text>
<g class="g3">
<text x="1078.2" y="563.3" font-size="21">Transwell insert</text>
<text x="1162.8" y="609.4" font-size="21" text-anchor="middle">Caco-2</text>
<text x="1162.8" y="635" font-size="21" text-anchor="middle">monoclayer</text>
<text x="1162.8" y="675.9" font-size="21" text-anchor="middle">Permeable</text>
<text x="1162.8" y="701.7" font-size="21" text-anchor="middle">membrane</text>
<text x="1618.3" y="611.3" font-size="21" text-anchor="middle">Apical</text>
<text x="1618.3" y="636.4" font-size="21" text-anchor="middle">chamber</text>
<text x="1626.3" y="679" font-size="21" text-anchor="middle">Basolateral</text>
<text x="1626.3" y="703.3" font-size="21" text-anchor="middle">chamber</text>
<text x="1537.6" y="320.8" font-size="21">Oxidation-damaged</text>
<text x="1537.6" y="346" font-size="21">hepG2 cells induced</text>
<text x="1537.6" y="370.7" font-size="21">by H<tspan font-size="13" dy="4">2</tspan><tspan dy="-4">O</tspan><tspan font-size="13" dy="4">2</tspan></text>
</g>
<text x="1413.2" y="747" font-size="25.2" text-anchor="middle">Caco-2 cells model</text>
<text x="501.6" y="573.6" font-size="25.1" text-anchor="middle">Influencing</text>
<text x="501.6" y="618.8" font-size="25" text-anchor="middle">structure</text>
<text x="704.2" y="497.8" font-size="24.9">Affecting</text>
</g>
</svg>
</body>
</html>
